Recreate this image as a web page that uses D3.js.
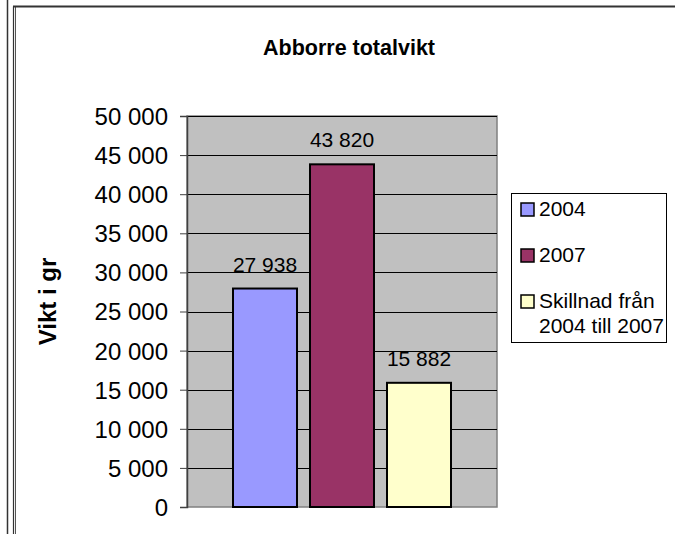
<!DOCTYPE html>
<html>
<head>
<meta charset="utf-8">
<script src="https://cdn.jsdelivr.net/npm/d3@7/dist/d3.min.js"></script>
<style>
  html, body { margin: 0; padding: 0; background: #fff; }
  svg { display: block; }
  text { font-family: Arial, "Liberation Sans", sans-serif; fill: #000; }
</style>
</head>
<body>
<svg id="chart" width="675" height="534"></svg>
<script>
// ---- Data ----
const title = "Abborre totalvikt";
const yAxisTitle = "Vikt i gr";
const seriesNames = ["2004", "2007", "Skillnad från 2004 till 2007"];
const legendLines = [["2004"], ["2007"], ["Skillnad från", "2004 till 2007"]];
const values = [27938, 43820, 15882];
const seriesColors = ["#9999FF", "#993366", "#FFFFCC"];
const yTicks = [0, 5000, 10000, 15000, 20000, 25000, 30000, 35000, 40000, 45000, 50000];

// ---- Layout ----
const W = 675, H = 534;
const plot = { left: 187, right: 497, top: 116, bottom: 507 };

const svg = d3.select("#chart");
const fmt = v => d3.format(",")(v).replace(/,/g, " ");

// Outer frame
svg.append("line").attr("x1", 7.5).attr("x2", 7.5).attr("y1", 0).attr("y2", H)
  .attr("stroke", "#333").attr("stroke-width", 1.5);
svg.append("line").attr("x1", 13.5).attr("x2", 13.5).attr("y1", 6.5).attr("y2", H)
  .attr("stroke", "#333").attr("stroke-width", 1.2);
svg.append("line").attr("x1", 15.5).attr("x2", 15.5).attr("y1", 7).attr("y2", H)
  .attr("stroke", "#555").attr("stroke-width", 1);
svg.append("line").attr("x1", 13).attr("x2", W).attr("y1", 6.5).attr("y2", 6.5)
  .attr("stroke", "#333").attr("stroke-width", 2);

// Scales
const y = d3.scaleLinear().domain([0, 50000]).range([plot.bottom, plot.top]);
const x = d3.scaleBand().domain(seriesNames).range([plot.left, plot.right])
  .paddingInner(13 / 77).paddingOuter(46 / 77);

// Plot area
svg.append("rect")
  .attr("x", plot.left).attr("y", plot.top)
  .attr("width", plot.right - plot.left).attr("height", plot.bottom - plot.top)
  .attr("fill", "#C0C0C0").attr("stroke", "#808080").attr("stroke-width", 1.5);

// Gridlines
svg.append("g").selectAll("line").data(yTicks.filter(d => d > 0)).join("line")
  .attr("x1", plot.left).attr("x2", plot.right)
  .attr("y1", d => Math.round(y(d)) + 0.5).attr("y2", d => Math.round(y(d)) + 0.5)
  .attr("stroke", "#000").attr("stroke-width", 1);

// Y axis
const yAxis = d3.axisLeft(y).tickValues(yTicks).tickFormat(fmt).tickSize(7).tickPadding(12);
const gy = svg.append("g").attr("transform", `translate(${plot.left},0)`).call(yAxis);
gy.select(".domain").attr("stroke", "#404040").attr("stroke-width", 1.5);
gy.selectAll(".tick line").attr("stroke", "#404040");
gy.selectAll(".tick text")
  .style("font-family", "Arial, 'Liberation Sans', sans-serif")
  .style("font-size", "24px").attr("fill", "#000").attr("dy", "0.35em");

// Bars
svg.append("g").selectAll("rect").data(values).join("rect")
  .attr("x", (d, i) => x(seriesNames[i]))
  .attr("y", d => y(d))
  .attr("width", x.bandwidth())
  .attr("height", d => y(0) - y(d))
  .attr("fill", (d, i) => seriesColors[i])
  .attr("stroke", "#000").attr("stroke-width", 2);

// Data labels
svg.append("g").selectAll("text").data(values).join("text")
  .attr("x", (d, i) => x(seriesNames[i]) + x.bandwidth() / 2)
  .attr("y", d => y(d) - 17)
  .attr("text-anchor", "middle")
  .style("font-size", "21px")
  .text(d => fmt(d));

// Title
svg.append("text").attr("x", 349).attr("y", 55).attr("text-anchor", "middle")
  .style("font-size", "21.5px").style("font-weight", "bold").text(title);

// Y axis title
svg.append("text")
  .attr("transform", `translate(56, ${(plot.top + plot.bottom) / 2 - 10}) rotate(-90)`)
  .attr("text-anchor", "middle")
  .style("font-size", "24px").style("font-weight", "bold").text(yAxisTitle);

// Legend
const lg = svg.append("g");
lg.append("rect").attr("x", 511.5).attr("y", 193.5).attr("width", 155).attr("height", 149)
  .attr("fill", "#fff").attr("stroke", "#000").attr("stroke-width", 1);
const rowY = d3.scalePoint().domain(seriesNames).range([216, 308]);
seriesNames.forEach((name, i) => {
  const by = rowY(name);
  lg.append("rect").attr("x", 521).attr("y", by - 13).attr("width", 13).attr("height", 13)
    .attr("fill", seriesColors[i]).attr("stroke", "#000").attr("stroke-width", 1.5);
  legendLines[i].forEach((ln, j) => {
    lg.append("text").attr("x", 539).attr("y", by + j * 25)
      .style("font-size", "21px").text(ln);
  });
});
</script>
</body>
</html>
